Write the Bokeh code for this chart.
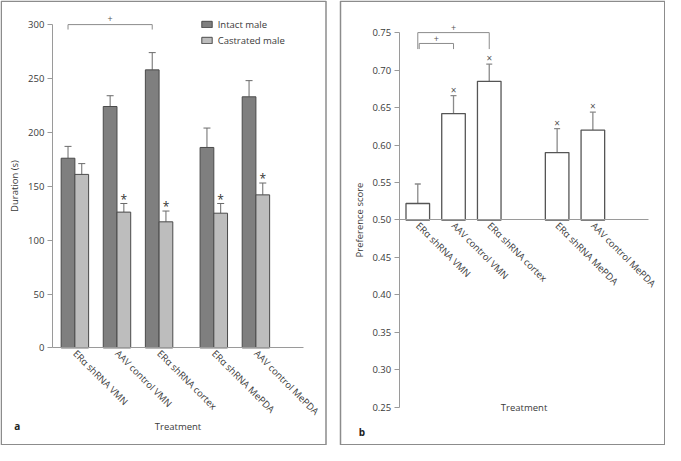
import math
from bokeh.plotting import figure
from bokeh.models import (Range1d, FixedTicker, PrintfTickFormatter, ColumnDataSource,
                          Whisker, TeeHead, Legend, LegendItem, LinearAxis)
from bokeh.core.properties import value
from bokeh.embed import file_html
from bokeh.resources import INLINE

# ---------------- data ----------------
treatments = ["ERα shRNA VMN", "AAV control VMN", "ERα shRNA cortex",
              "ERα shRNA MePDA", "AAV control MePDA"]

intact_mean = [176, 224, 258, 186, 233]
intact_sem = [11, 10, 16, 18, 15]
castrated_mean = [161, 126, 117, 125, 142]
castrated_sem = [10, 8, 10, 9, 11]
castrated_sig = [False, True, True, True, True]
duration_ticks = [0, 50, 100, 150, 200, 250, 300]
bracket_a = [(0, 2)]

pref_mean = [0.522, 0.642, 0.685, 0.590, 0.620]
pref_sem = [0.026, 0.024, 0.023, 0.032, 0.024]
pref_sig = [False, True, True, True, True]
pref_ticks = [0.25, 0.30, 0.35, 0.40, 0.45, 0.50, 0.55, 0.60, 0.65, 0.70, 0.75]
bracket_b = [(0, 1), (0, 2)]

# ---------------- style / layout ----------------
FONT = "Open Sans"
FS = "9.5px"
TXT = "#3a3a3a"
AX = "#9a9a9a"
W, H = 665, 445

# one canvas holding both panels; each panel has its own ranges
p = figure(width=W, height=H, x_range=Range1d(0, W), y_range=Range1d(0, H),
           x_axis_type=None, y_axis_type=None, output_backend="svg",
           toolbar_location=None, min_border=0)
p.xgrid.visible = False
p.ygrid.visible = False
p.outline_line_color = None
p.extra_x_ranges = {"ax": Range1d(-7.67, 150.29), "bx": Range1d(-106.79, 79.33)}
p.extra_y_ranges = {"ay": Range1d(-90.56, 322.36), "by": Range1d(0.19917, 0.79282)}

# panel frames
p.quad(left=[0.75, 340], right=[325.5, 664.25], bottom=[0.75, 0.75], top=[444.25, 444.25],
       fill_color=None, line_color="#8c8c8c", line_width=1.5)


def style_axis(ax):
    ax.axis_line_color = AX
    ax.axis_line_width = 1
    ax.major_tick_line_color = AX
    ax.minor_tick_line_color = None
    ax.major_label_text_font = FONT
    ax.major_label_text_font_size = FS
    ax.major_label_text_color = TXT
    ax.axis_label_text_font = FONT
    ax.axis_label_text_font_size = FS
    ax.axis_label_text_font_style = "normal"
    ax.axis_label_text_color = TXT


def y_axis(xr, yr, loc, bounds, ticks, label, fmt=None):
    ax = LinearAxis(x_range_name=xr, y_range_name=yr, fixed_location=loc, bounds=bounds,
                    ticker=FixedTicker(ticks=ticks), axis_label=label)
    style_axis(ax)
    ax.major_tick_out = 5
    ax.major_tick_in = 0
    ax.major_label_standoff = 3
    ax.axis_label_standoff = 4
    if fmt:
        ax.formatter = fmt
    p.add_layout(ax, "left")


def x_axis(xr, yr, loc, bounds, ticks, label):
    ax = LinearAxis(x_range_name=xr, y_range_name=yr, fixed_location=loc, bounds=bounds,
                    ticker=FixedTicker(ticks=ticks),
                    major_label_overrides={x: t for x, t in zip(ticks, treatments)})
    style_axis(ax)
    ax.major_tick_out = 0
    ax.major_tick_in = 0
    ax.major_label_standoff = 4
    ax.major_label_orientation = -math.pi / 4
    if label:
        ax.axis_label = label
        ax.axis_label_standoff = -5
    p.add_layout(ax, "below")


def txt(x, y, s, size, color, xr, yr, **kw):
    p.text(x=x, y=y, text=s, text_font=value(FONT), text_font_size=size,
           text_color=color, x_range_name=xr, y_range_name=yr, **kw)


# ---------------- panel a ----------------
lx = [10 * (i + 1) + (3 if i >= 3 else 0) for i in range(len(treatments))]
bw = 3.26
A = dict(x_range_name="ax", y_range_name="ay")

src_i = ColumnDataSource(dict(x=[v - bw / 2 for v in lx], top=intact_mean,
                              up=[m + s for m, s in zip(intact_mean, intact_sem)]))
src_c = ColumnDataSource(dict(x=[v + bw / 2 for v in lx], top=castrated_mean,
                              up=[m + s for m, s in zip(castrated_mean, castrated_sem)]))
for src in (src_i, src_c):
    p.add_layout(Whisker(source=src, base="x", lower="top", upper="up", line_color="#6a6a6a",
                         line_width=1, lower_head=None,
                         upper_head=TeeHead(size=7, line_color="#6a6a6a", line_width=1), **A))

r_i = p.vbar(x="x", top="top", bottom=0, width=bw, source=src_i,
             fill_color="#7f7f7f", line_color="#4a4a4a", line_width=1, **A)
r_c = p.vbar(x="x", top="top", bottom=0, width=bw, source=src_c,
             fill_color="#bdbdbd", line_color="#4a4a4a", line_width=1, **A)

star_x = [v + bw / 2 for v, s in zip(lx, castrated_sig) if s]
star_y = [m + e + 4 for m, e, s in zip(castrated_mean, castrated_sem, castrated_sig) if s]
txt(star_x, star_y, ["*"] * len(star_x), "12px", "#333333", "ax", "ay",
    text_align="center", text_baseline="middle")

top_a = duration_ticks[-1]
for a, b in bracket_a:
    xa, xb = lx[a] - bw / 2, lx[b] - bw / 2
    p.line(x=[xa, xa, xb, xb], y=[top_a - 4.6, top_a, top_a, top_a - 4.6],
           line_color="#8c8c8c", line_width=1, **A)
    txt([(xa + xb) / 2], [top_a + 5.5], ["+"], "9px", "#555555", "ax", "ay",
        text_align="center", text_baseline="middle")

y_axis("ax", "ay", 4.66, (duration_ticks[0], duration_ticks[-1]), duration_ticks,
       "Duration (s)")
x_axis("ax", "ay", 0, (4.66, 64.42), lx, "Treatment")

leg = Legend(items=[LegendItem(label="Intact male", renderers=[r_i]),
                    LegendItem(label="Castrated male", renderers=[r_c])],
             location=(199.7, 398.4), glyph_width=13, glyph_height=8, label_height=12,
             spacing=3, padding=0, margin=0, label_standoff=5,
             background_fill_alpha=0, border_line_alpha=0,
             label_text_font=FONT, label_text_font_size=FS, label_text_color=TXT)
p.add_layout(leg)

# ---------------- panel b ----------------
rx = [10 * (i + 1) + (9 if i >= 3 else 0) for i in range(len(treatments))]
bw2 = 6.6
y0 = 0.5
xb_axis = (4.80, 74.68)
B = dict(x_range_name="bx", y_range_name="by")

src_p = ColumnDataSource(dict(x=rx, top=pref_mean,
                              up=[m + s for m, s in zip(pref_mean, pref_sem)]))
p.add_layout(Whisker(source=src_p, base="x", lower="top", upper="up", line_color="#8a8a8a",
                     line_width=1.3, lower_head=None,
                     upper_head=TeeHead(size=6, line_color="#8a8a8a", line_width=1.3), **B))
p.vbar(x="x", top="top", bottom=y0, width=bw2, source=src_p,
       fill_color="white", line_color="#555555", line_width=1.3, **B)

xm_x = [v for v, s in zip(rx, pref_sig) if s]
xm_y = [m + e + 0.0075 for m, e, s in zip(pref_mean, pref_sem, pref_sig) if s]
txt(xm_x, xm_y, ["×"] * len(xm_x), "10px", "#555555", "bx", "by",
    text_align="center", text_baseline="middle")

b_levels = [0.7355, 0.75]
b_offsets = [0.4, 0.0]
for (a, b), lev, off in zip(bracket_b, b_levels, b_offsets):
    xa, xb = rx[a] + off, rx[b]
    p.line(x=[xa, xa, xb, xb], y=[0.728, lev, lev, 0.728],
           line_color="#8c8c8c", line_width=1, **B)
    txt([(xa + xb) / 2], [lev + 0.0068], ["+"], "9px", "#555555", "bx", "by",
        text_align="center", text_baseline="middle")

y_axis("bx", "by", xb_axis[0], (pref_ticks[0], pref_ticks[-1]), pref_ticks,
       "Preference score", PrintfTickFormatter(format="%.2f"))
x_axis("bx", "by", y0, xb_axis, rx, None)
txt([sum(xb_axis) / 2], [pref_ticks[0]], ["Treatment"], FS, TXT, "bx", "by",
    text_align="center", text_baseline="middle")

# panel letters
txt([13.7, 358.3], [19.4, 13.4], ["a", "b"], "10px", "#222222", "default", "default",
    text_align="left", text_baseline="middle", text_font_style="bold")

open("out.html", "w").write(file_html(p, INLINE))
